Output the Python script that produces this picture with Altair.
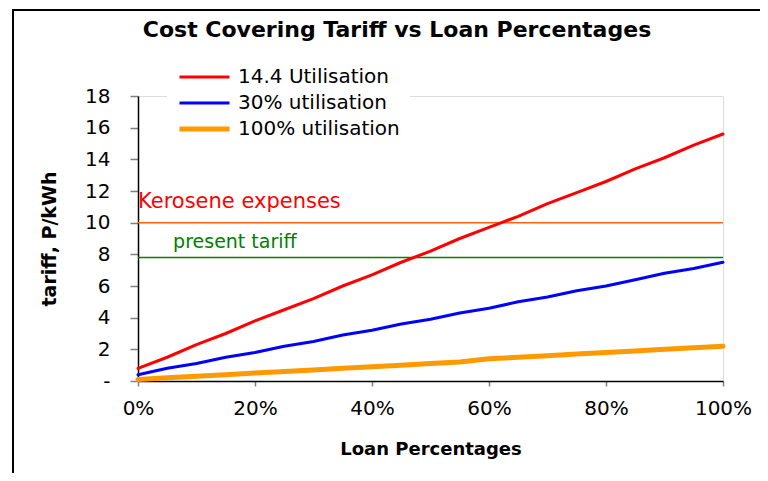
import altair as alt
import pandas as pd

# ---- data ----
loan_pct = [0.00, 0.05, 0.10, 0.15, 0.20, 0.25, 0.30, 0.35, 0.40, 0.45, 0.50,
            0.55, 0.60, 0.65, 0.70, 0.75, 0.80, 0.85, 0.90, 0.95, 1.00]
util_144 = [0.8, 1.5, 2.3, 3.0, 3.8, 4.5, 5.2, 6.0, 6.7, 7.5, 8.2,
            9.0, 9.7, 10.4, 11.2, 11.9, 12.6, 13.4, 14.1, 14.9, 15.6]
util_30 = [0.4, 0.8, 1.1, 1.5, 1.8, 2.2, 2.5, 2.9, 3.2, 3.6, 3.9,
           4.3, 4.6, 5.0, 5.3, 5.7, 6.0, 6.4, 6.8, 7.1, 7.5]
util_100 = [0.1, 0.2, 0.3, 0.4, 0.5, 0.6, 0.7, 0.8, 0.9, 1.0, 1.1,
            1.2, 1.4, 1.5, 1.6, 1.7, 1.8, 1.9, 2.0, 2.1, 2.2]

series_names = ["\u00a014.4 Utilisation", "30% utilisation", "100% utilisation"]
series_colors = ["#FF0000", "#0000FF", "#FF9900"]
series_widths = [3, 3, 5]

ref_labels = ["Kerosene expenses", "present tariff"]
ref_values = [10.0, 7.8]
ref_colors = ["#FF6600", "#008000"]
ref_text_colors = ["#FF0000", "#008000"]
ref_label_x = [0.0, 0.06]
ref_label_y = [10.95, 8.4]
ref_label_size = [21, 19]

chart_title = "Cost Covering Tariff vs Loan Percentages"

x_ticks = [0, 0.2, 0.4, 0.6, 0.8, 1.0]
y_ticks = [0, 2, 4, 6, 8, 10, 12, 14, 16, 18]

FONT = "DejaVu Sans"
W, H = 585, 285

rows = []
for name, vals in zip(series_names, [util_144, util_30, util_100]):
    for p, v in zip(loan_pct, vals):
        rows.append({"loan": p, "tariff": v, "series": name})
df = pd.DataFrame(rows)

x_scale = alt.Scale(domain=[0, 1], nice=False)
y_scale = alt.Scale(domain=[0, 18], nice=False)

x_axis = alt.Axis(values=x_ticks, format=".0%", title="Loan Percentages",
                  labelFont=FONT, labelFontSize=20, labelColor="black",
                  labelPadding=12, tickSize=5, tickColor="#808080", tickWidth=1.5,
                  labelFlush=False, labelOverlap=False,
                  domainColor="black", domainWidth=1.5, grid=False,
                  titleFont=FONT, titleFontSize=18, titleFontWeight="bold",
                  titleColor="black", titlePadding=22)
y_axis = alt.Axis(values=y_ticks, labelExpr="datum.value == 0 ? '-  ' : datum.label",
                  title="tariff, P/kWh", labelOverlap=False, labelFlush=False,
                  labelFont=FONT, labelFontSize=20, labelColor="black",
                  labelPadding=20, tickSize=8, tickColor="#808080", tickWidth=1.5,
                  domainColor="black", domainWidth=1.5, grid=False,
                  titleFont=FONT, titleFontSize=19, titleFontWeight="bold",
                  titleColor="black", titlePadding=25)

legend_props = dict(title=None, orient="none", legendX=29, legendY=-39,
                    symbolType="stroke", symbolSize=2500, labelFont=FONT,
                    labelFontSize=20, labelColor="black", labelOffset=6, labelLimit=400,
                    clipHeight=20, rowPadding=6, fillColor="white", padding=10)

layers = []
one = pd.DataFrame({"a": [0]})
# outer frame (left and top edges)
layers.append(alt.Chart(one).mark_rule(color="black", strokeWidth=2).encode(
    x=alt.value(-125), y=alt.value(-86), y2=alt.value(H + 200)))
layers.append(alt.Chart(one).mark_rule(color="black", strokeWidth=2).encode(
    x=alt.value(-126), x2=alt.value(W + 200), y=alt.value(-86)))
# chart title
layers.append(alt.Chart(pd.DataFrame({"t": [chart_title]})).mark_text(
    align="center", baseline="alphabetic", font=FONT, fontSize=22,
    fontWeight="bold", color="black").encode(
    x=alt.value(259), y=alt.value(-59), text="t:N"))

# series lines
layers.append(alt.Chart(df).mark_line(strokeCap="round", strokeJoin="round").encode(
    x=alt.X("loan:Q", scale=x_scale, axis=x_axis),
    y=alt.Y("tariff:Q", scale=y_scale, axis=y_axis),
    color=alt.Color("series:N", sort=series_names,
                    scale=alt.Scale(domain=series_names, range=series_colors),
                    legend=alt.Legend(**legend_props)),
    strokeWidth=alt.StrokeWidth("series:N", sort=series_names,
                                scale=alt.Scale(type="ordinal", domain=series_names,
                                                range=series_widths),
                                legend=alt.Legend(**legend_props)),
))

# reference lines
for lab, val, col in zip(ref_labels, ref_values, ref_colors):
    d = pd.DataFrame({"tariff": [val]})
    layers.append(alt.Chart(d).mark_rule(color=col, strokeWidth=1.5).encode(
        y=alt.Y("tariff:Q", scale=y_scale, axis=y_axis)))

# annotations
for lab, tx, ty, col, fs in zip(ref_labels, ref_label_x, ref_label_y, ref_text_colors, ref_label_size):
    d = pd.DataFrame({"loan": [tx], "tariff": [ty], "t": [lab]})
    layers.append(alt.Chart(d).mark_text(align="left", baseline="alphabetic",
                                         font=FONT, fontSize=fs, color=col).encode(
        x=alt.X("loan:Q", scale=x_scale, axis=x_axis),
        y=alt.Y("tariff:Q", scale=y_scale, axis=y_axis), text="t:N"))

# draw order: frame, title, reference lines, series lines, annotations
order = [0, 1, 2, 4, 5, 3, 6, 7]
chart = alt.layer(*[layers[i] for i in order]).properties(
    width=W, height=H,
    autosize=alt.AutoSizeParams(type="none"),
    padding={"left": 130, "top": 88, "right": 37, "bottom": 92},
).configure_view(stroke="#808080", strokeWidth=1.5).configure(background="white")

chart.save("out.html", embed_options={"renderer": "svg", "actions": False})
